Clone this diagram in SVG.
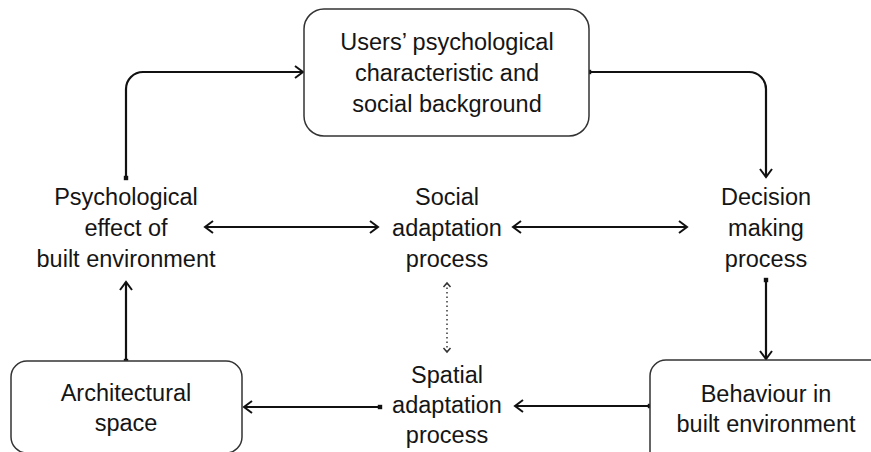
<svg xmlns="http://www.w3.org/2000/svg" width="871" height="452" viewBox="0 0 871 452">
  <style>
    .box { fill: #ffffff; stroke: #333333; stroke-width: 1.5; }
    .lbl { font-family: "Liberation Sans", Arial, sans-serif; font-size: 23.5px; fill: #151515; text-anchor: middle; }
    .flow { fill: none; stroke: #111111; stroke-width: 2.2; }
    .dot { fill: none; stroke: #444444; stroke-width: 1.6; stroke-dasharray: 1.5 3; }
  </style>
  <defs>
    <marker id="head" markerUnits="userSpaceOnUse" markerWidth="20" markerHeight="20" viewBox="-10 -10 20 20" refX="0" refY="0" orient="auto-start-reverse">
      <path d="M -8 -6 L 0 0 L -8 6" fill="none" stroke="#111111" stroke-width="2"/>
    </marker>
    <marker id="tail" markerUnits="userSpaceOnUse" markerWidth="10" markerHeight="10" viewBox="-5 -5 10 10" refX="0" refY="0">
      <rect x="-2.2" y="-2.2" width="4.4" height="4.4" fill="#111111"/>
    </marker>
    <marker id="small" markerUnits="userSpaceOnUse" markerWidth="12" markerHeight="12" viewBox="-6 -6 12 12" refX="0" refY="0" orient="auto-start-reverse">
      <path d="M -4 -3.5 L 0 0 L -4 3.5" fill="none" stroke="#333333" stroke-width="1.5"/>
    </marker>
  </defs>

  <!-- connectors -->
  <g id="connectors">
    <path class="flow" d="M126 178 V89 A17 17 0 0 1 143 72 H303" marker-start="url(#tail)" marker-end="url(#head)"/>
    <path class="flow" d="M589 72 H749 A17 17 0 0 1 766 89 V177" marker-start="url(#tail)" marker-end="url(#head)"/>
    <path class="flow" d="M766 280 V359" marker-start="url(#tail)" marker-end="url(#head)"/>
    <path class="flow" d="M650 406 H515" marker-start="url(#tail)" marker-end="url(#head)"/>
    <path class="flow" d="M380 407 H244" marker-start="url(#tail)" marker-end="url(#head)"/>
    <path class="flow" d="M126 361 V282" marker-start="url(#tail)" marker-end="url(#head)"/>
    <path class="flow" d="M205 227 H378" marker-start="url(#head)" marker-end="url(#head)"/>
    <path class="flow" d="M513 227 H687" marker-start="url(#head)" marker-end="url(#head)"/>
    <path class="dot" d="M447 283 V352" marker-start="url(#small)" marker-end="url(#small)"/>
  </g>

  <g id="users">
    <rect class="box" x="304" y="9" width="285" height="127" rx="20"/>
    <text class="lbl" x="447" y="50">Users’ psychological</text>
    <text class="lbl" x="447" y="81">characteristic and</text>
    <text class="lbl" x="447" y="112">social background</text>
  </g>

  <g id="decision">
    <text class="lbl" x="766" y="205">Decision</text>
    <text class="lbl" x="766" y="236">making</text>
    <text class="lbl" x="766" y="267">process</text>
  </g>

  <g id="social">
    <text class="lbl" x="447" y="205">Social</text>
    <text class="lbl" x="447" y="236">adaptation</text>
    <text class="lbl" x="447" y="267">process</text>
  </g>

  <g id="psychological">
    <text class="lbl" x="126" y="205">Psychological</text>
    <text class="lbl" x="126" y="236">effect of</text>
    <text class="lbl" x="126" y="267">built environment</text>
  </g>

  <g id="behaviour">
    <rect class="box" x="650" y="360" width="240" height="110" rx="16"/>
    <text class="lbl" x="766" y="402">Behaviour in</text>
    <text class="lbl" x="766" y="432">built environment</text>
  </g>

  <g id="spatial">
    <text class="lbl" x="447" y="383">Spatial</text>
    <text class="lbl" x="447" y="413">adaptation</text>
    <text class="lbl" x="447" y="443">process</text>
  </g>

  <g id="architectural">
    <rect class="box" x="11" y="361" width="231" height="92" rx="16"/>
    <text class="lbl" x="126" y="401">Architectural</text>
    <text class="lbl" x="126" y="431">space</text>
  </g>
</svg>
